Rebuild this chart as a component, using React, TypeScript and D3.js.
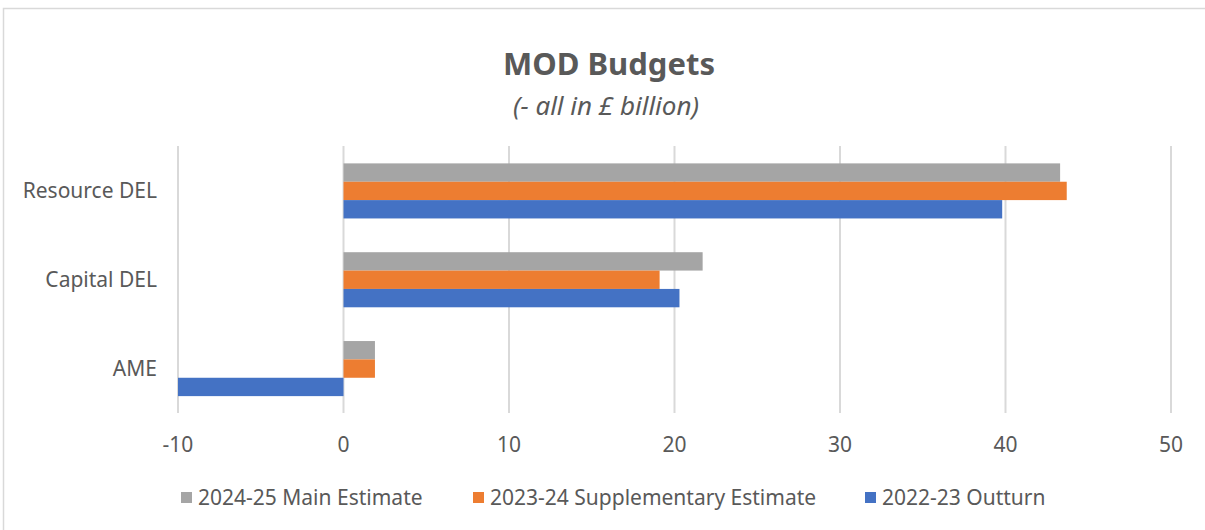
import React from "react";
import * as d3 from "d3";

const categories = ["Resource DEL", "Capital DEL", "AME"];
const seriesNames = ["2024-25 Main Estimate", "2023-24 Supplementary Estimate", "2022-23 Outturn"];
const mainEstimate2425 = [43.3, 21.7, 1.9];
const suppEstimate2324 = [43.7, 19.1, 1.9];
const outturn2223 = [39.8, 20.3, -10.0];
const xTicks = [-10, 0, 10, 20, 30, 40, 50];
const colors = ["#A5A5A5", "#ED7D31", "#4472C4"];

const W = 1205;
const H = 530;
const FONT = "'Noto Sans', 'Open Sans', sans-serif";
const TXT = "#595959";

export default function App() {
  const seriesValues = [mainEstimate2425, suppEstimate2324, outturn2223];
  const x = d3.scaleLinear().domain([-10, 50]).range([178, 1171]);
  const y = d3
    .scaleBand<string>()
    .domain(categories)
    .range([146.5, 413])
    .paddingInner(0.38)
    .paddingOuter(0.19);
  const ys = d3
    .scaleBand<string>()
    .domain(seriesNames)
    .range([0, y.bandwidth()]);

  const legendX = [181, 473, 865];

  return (
    <svg
      width={W}
      height={H}
      style={{ position: "absolute", left: 0, top: 0, background: "#fff" }}
      fontFamily={FONT}
    >
      <rect x={0} y={0} width={W} height={H} fill="#fff" />
      <rect x={3.5} y={8.5} width={W + 10} height={H + 10} fill="none" stroke="#D9D9D9" strokeWidth={1.5} />
      <text x={609} y={75} textAnchor="middle" fontSize={31} fontWeight="bold" fill={TXT}>
        MOD Budgets
      </text>
      <text x={606} y={115} textAnchor="middle" fontSize={26} fontStyle="italic" fill={TXT}>
        (- all in £ billion)
      </text>
      {xTicks.map((t) => (
        <line
          key={"g" + t}
          x1={x(t)}
          x2={x(t)}
          y1={146}
          y2={413}
          stroke="#D9D9D9"
          strokeWidth={2}
        />
      ))}
      {categories.map((c, ci) =>
        seriesNames.map((s, si) => {
          const v = seriesValues[si][ci];
          const x0 = x(Math.min(0, v));
          const x1 = x(Math.max(0, v));
          return (
            <rect
              key={c + s}
              x={x0}
              y={(y(c) as number) + (ys(s) as number)}
              width={x1 - x0}
              height={ys.bandwidth()}
              fill={colors[si]}
            />
          );
        })
      )}
      {xTicks.map((t) => (
        <text key={"t" + t} x={x(t)} y={452} textAnchor="middle" fontSize={21} fill={TXT}>
          {t}
        </text>
      ))}
      {categories.map((c) => (
        <text
          key={"c" + c}
          x={157}
          y={(y(c) as number) + y.bandwidth() / 2 + 7}
          textAnchor="end"
          fontSize={21}
          fill={TXT}
        >
          {c}
        </text>
      ))}
      {seriesNames.map((s, i) => (
        <g key={"l" + s}>
          <rect x={legendX[i]} y={492} width={11} height={11} fill={colors[i]} />
          <text x={legendX[i] + 17} y={505} fontSize={21} fill={TXT}>
            {s}
          </text>
        </g>
      ))}
    </svg>
  );
}
